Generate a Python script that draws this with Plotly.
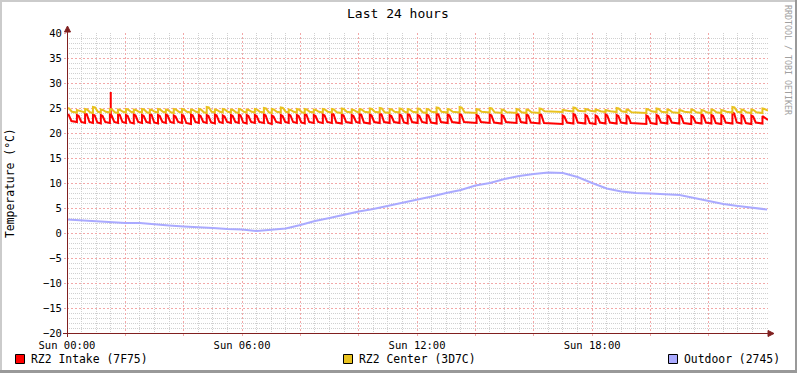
import plotly.graph_objects as go

# ---------------- data ----------------
hour_ticks = [0, 2, 4, 6, 8, 10, 12, 14, 16, 18, 20, 22]
hour_labels = ["Sun 00:00", "", "", "Sun 06:00", "", "", "Sun 12:00", "", "", "Sun 18:00", "", ""]

# cycle start times (hours) of the thermostat cycles seen in both rack sensors
cycle_hours = [0.00, 0.34, 0.62, 0.89, 1.16, 1.47, 1.75, 2.02, 2.29, 2.57,
               2.84, 3.12, 3.39, 3.66, 3.94, 4.25, 4.52, 4.79, 5.07, 5.34,
               5.62, 5.89, 6.16, 6.44, 6.75, 7.02, 7.33, 7.60, 7.88, 8.15,
               8.46, 8.77, 9.08, 9.42, 9.76, 10.03, 10.38, 10.72, 11.06, 11.40,
               11.68, 12.02, 12.33, 12.67, 13.05, 13.46, 14.04, 14.49, 14.90, 15.41,
               15.75, 16.20, 16.99, 17.36, 17.77, 18.12, 18.46, 18.84, 19.18, 19.86,
               20.21, 20.58, 20.99, 21.40, 21.75, 22.09, 22.43, 22.81, 23.12, 23.46,
               23.84]

intake_peak = [23.8, 23.6, 23.9, 23.7, 23.6, 23.7, 23.8, 23.6, 23.7, 23.6,
               23.8, 23.6, 23.7, 23.5, 23.6, 23.7, 23.6, 23.6, 23.7, 23.5,
               23.6, 23.7, 23.6, 23.6, 23.7, 23.5, 23.6, 23.7, 23.6, 23.8,
               23.6, 23.7, 23.9, 23.7, 23.6, 23.8, 23.7, 23.9, 23.6, 23.7,
               23.8, 23.6, 23.7, 23.9, 23.7, 23.8, 23.6, 23.7, 23.6, 23.9,
               23.7, 23.8, 23.5, 23.8, 23.6, 23.5, 23.7, 23.6, 23.5, 23.5,
               23.6, 23.5, 23.6, 23.4, 23.7, 23.6, 23.6, 24.1, 23.6, 23.5,
               23.4]
intake_low = [22.2, 22.0, 22.0, 21.9, 22.0, 22.0, 22.0, 21.9, 22.0, 22.0,
              21.9, 22.0, 22.0, 22.0, 21.8, 22.0, 22.0, 21.9, 22.0, 22.0,
              22.0, 21.9, 22.0, 22.0, 21.8, 22.0, 22.0, 22.0, 21.9, 22.0,
              22.0, 22.0, 21.9, 22.0, 22.0, 21.9, 22.0, 22.0, 22.0, 21.9,
              22.0, 22.0, 21.9, 22.0, 22.0, 22.0, 22.0, 21.9, 22.0, 22.0,
              21.9, 21.8, 21.9, 21.9, 21.8, 21.9, 21.9, 21.9, 21.8, 21.8,
              21.9, 21.9, 21.8, 21.9, 21.9, 21.8, 21.9, 21.9, 21.8, 21.9,
              22.6]
intake_spike_hour = [1.50]
intake_spike_value = [28.2]

center_peak = [25.0, 24.6, 24.8, 25.2, 24.7, 24.8, 24.7, 24.8, 24.7, 24.8,
               24.7, 24.8, 24.7, 24.8, 24.8, 24.7, 24.8, 25.2, 24.7, 24.8,
               24.7, 24.8, 24.7, 24.8, 25.0, 24.8, 25.1, 24.7, 24.8, 24.8,
               24.7, 24.8, 24.8, 24.9, 24.7, 24.8, 24.9, 25.0, 24.8, 24.9,
               24.8, 24.9, 24.8, 25.1, 24.8, 25.2, 24.8, 25.0, 24.7, 24.8,
               24.7, 24.9, 24.6, 25.1, 24.8, 24.7, 24.6, 25.0, 24.7, 24.8,
               24.9, 24.7, 24.6, 24.7, 24.6, 24.7, 24.6, 25.2, 24.7, 24.7,
               24.9]
center_low = [24.1, 24.1, 24.0, 24.1, 24.1, 24.0, 24.1, 24.1, 24.1, 24.0,
              24.1, 24.1, 24.0, 24.1, 24.1, 24.1, 24.0, 24.1, 24.1, 24.1,
              24.0, 24.1, 24.1, 24.1, 24.0, 24.1, 24.1, 24.1, 24.0, 24.1,
              24.1, 24.1, 24.0, 24.1, 24.1, 24.1, 24.1, 24.0, 24.1, 24.1,
              24.1, 24.0, 24.1, 24.1, 24.1, 24.0, 24.1, 24.0, 24.0, 24.0,
              24.0, 24.2, 24.3, 24.3, 24.3, 24.2, 24.2, 24.2, 24.0, 24.2,
              24.1, 24.0, 24.1, 24.0, 24.0, 24.0, 24.1, 24.1, 24.0, 24.0,
              24.5]

outdoor_hours = [0.0, 0.5, 1.0, 1.5, 2.0, 2.5, 3.0, 3.5, 4.0, 4.5,
                 5.0, 5.5, 6.0, 6.5, 7.0, 7.5, 8.0, 8.5, 9.0, 9.5,
                 10.0, 10.5, 11.0, 11.5, 12.0, 12.5, 13.0, 13.5, 14.0, 14.5,
                 15.0, 15.5, 16.0, 16.5, 17.0, 17.5, 18.0, 18.5, 19.0, 19.5,
                 20.0, 20.5, 21.0, 21.5, 22.0, 22.5, 23.0, 23.5, 24.0]
outdoor_temp = [2.7, 2.5, 2.4, 2.2, 2.0, 2.0, 1.7, 1.5, 1.3, 1.2,
                1.0, 0.8, 0.7, 0.4, 0.6, 0.9, 1.6, 2.4, 3.0, 3.7,
                4.3, 4.8, 5.4, 6.0, 6.6, 7.3, 8.0, 8.6, 9.5, 10.0,
                10.8, 11.4, 11.8, 12.1, 12.0, 11.2, 10.0, 8.9, 8.3, 8.0,
                7.9, 7.8, 7.6, 7.0, 6.4, 5.8, 5.4, 5.1, 4.7]

series_names = ["RZ2 Intake (7F75)", "RZ2 Center (3D7C)", "Outdoor (2745)"]
series_colors = ["#FF0000", "#E9C21F", "#AAAAFF"]

# ---------------- helpers ----------------
W, H = 797, 373
L, R, T, B = 67, 768, 33, 333  # plot area in pixels
X_END = 24.03


def px(x):
    return (x - L) / (R - L)


def py(y):
    return (B - y) / (B - T)


def cycle_line(starts, peaks, lows, end, drop, settle, drop_amt, settle_amt):
    xs, ys = [], []
    for i, t0 in enumerate(starts):
        t1 = starts[i + 1] if i + 1 < len(starts) else end
        xs += [t0, t0 + drop, t0 + settle, t1]
        ys += [peaks[i], peaks[i] - drop_amt, lows[i] + settle_amt, lows[i]]
    return xs, ys


ix, iy = cycle_line(cycle_hours, intake_peak, intake_low, X_END, 0.06, 0.15, 0.2, 0.2)
cx, cy = cycle_line(cycle_hours, center_peak, center_low, X_END, 0.07, 0.17, 0.1, 0.15)

# minor grid positions that do not coincide with major grid lines
x_minor = [k * 0.5 for k in range(0, 49) if (k * 0.5) % 2 != 0]
y_minor = [v for v in range(-20, 41) if v % 5 != 0]

FONT = "DejaVu Sans Mono"
AXIS_COL = "#802020"
MAJ = "rgb(242,168,168)"
MIN = "rgb(208,208,208)"

fig = go.Figure()
fig.add_trace(go.Scatter(x=ix, y=iy, mode="lines", line=dict(color=series_colors[0], width=2),
                         name=series_names[0]))
fig.add_trace(go.Scatter(x=[intake_spike_hour[0], intake_spike_hour[0]],
                         y=[23.0, intake_spike_value[0]], mode="lines",
                         line=dict(color=series_colors[0], width=2), showlegend=False))
fig.add_trace(go.Scatter(x=cx, y=cy, mode="lines", line=dict(color=series_colors[1], width=2),
                         name=series_names[1]))
fig.add_trace(go.Scatter(x=outdoor_hours, y=outdoor_temp, mode="lines",
                         line=dict(color=series_colors[2], width=2), name=series_names[2]))

shapes = []
# outer 3D frame
shapes.append(dict(type="rect", xref="paper", yref="paper", x0=px(0), x1=px(W), y0=py(0), y1=py(2),
                   fillcolor="#CBCBCB", line=dict(width=0), layer="above"))
shapes.append(dict(type="rect", xref="paper", yref="paper", x0=px(0), x1=px(2), y0=py(0), y1=py(H),
                   fillcolor="#CBCBCB", line=dict(width=0), layer="above"))
shapes.append(dict(type="rect", xref="paper", yref="paper", x0=px(W - 2), x1=px(W), y0=py(0), y1=py(H),
                   fillcolor="#999999", line=dict(width=0), layer="above"))
shapes.append(dict(type="rect", xref="paper", yref="paper", x0=px(0), x1=px(W), y0=py(H - 3), y1=py(H),
                   fillcolor="#999999", line=dict(width=0), layer="above"))
# axes with arrows
shapes.append(dict(type="line", xref="paper", yref="paper", x0=px(63), x1=px(770), y0=py(333.5), y1=py(333.5),
                   line=dict(color=AXIS_COL, width=1), layer="above"))
shapes.append(dict(type="line", xref="paper", yref="paper", x0=px(67.5), x1=px(67.5), y0=py(337), y1=py(30),
                   line=dict(color=AXIS_COL, width=1), layer="above"))
shapes.append(dict(type="path", xref="paper", yref="paper",
                   path="M %f,%f L %f,%f L %f,%f Z" % (px(768), py(330.5), px(774), py(333.5), px(768), py(336.5)),
                   fillcolor=AXIS_COL, line=dict(color=AXIS_COL, width=1), layer="above"))
shapes.append(dict(type="path", xref="paper", yref="paper",
                   path="M %f,%f L %f,%f L %f,%f Z" % (px(64.5), py(32), px(67.5), py(26), px(70.5), py(32)),
                   fillcolor=AXIS_COL, line=dict(color=AXIS_COL, width=1), layer="above"))

annotations = [
    dict(text="Last 24 hours", xref="paper", yref="paper", x=px(398), y=py(13), showarrow=False,
         xanchor="center", yanchor="middle", font=dict(family=FONT, size=13, color="#000000")),
    dict(text="Temperature (°C)", xref="paper", yref="paper", x=px(10), y=py(183), showarrow=False,
         textangle=-90, xanchor="center", yanchor="middle", font=dict(family=FONT, size=11.4, color="#000000")),
    dict(text="RRDTOOL / TOBI OETIKER", xref="paper", yref="paper", x=px(788), y=py(60), showarrow=False,
         textangle=90, xanchor="center", yanchor="middle", font=dict(family=FONT, size=8.3, color="#A0A0A0")),
]

legend_pos = [15, 343, 668]
for name, col, lx in zip(series_names, series_colors, legend_pos):
    shapes.append(dict(type="rect", xref="paper", yref="paper", x0=px(lx + 0.5), x1=px(lx + 9.5),
                       y0=py(354.5), y1=py(363.5), fillcolor=col, line=dict(color="#000000", width=1),
                       layer="above"))
    annotations.append(dict(text=name, xref="paper", yref="paper", x=px(lx + 14), y=py(359),
                            showarrow=False, xanchor="left", yanchor="middle",
                            font=dict(family=FONT, size=11.4, color="#000000")))

fig.update_layout(
    template="none",
    width=W, height=H, autosize=False,
    margin=dict(l=L, r=W - R, t=T, b=H - B, pad=0),
    paper_bgcolor="#FFFFFF", plot_bgcolor="#FFFFFF",
    showlegend=False,
    shapes=shapes, annotations=annotations,
    font=dict(family=FONT, size=10.5, color="#000000"),
    xaxis=dict(range=[0, X_END], tickmode="array", tickvals=hour_ticks, ticktext=hour_labels,
               showgrid=True, gridcolor=MAJ, griddash="2px,2px", gridwidth=1,
               minor=dict(tickmode="array", tickvals=x_minor, showgrid=True, gridcolor=MIN,
                          griddash="1px,1px", gridwidth=1, ticks=""),
               zeroline=False, showline=False, ticks="outside", ticklen=2, tickcolor=MAJ,
               tickfont=dict(family=FONT, size=10.5, color="#000000"), fixedrange=True),
    yaxis=dict(range=[-20, 40], tickmode="linear", tick0=0, dtick=5,
               showgrid=True, gridcolor=MAJ, griddash="2px,2px", gridwidth=1,
               minor=dict(tickmode="array", tickvals=y_minor, showgrid=True, gridcolor=MIN,
                          griddash="1px,1px", gridwidth=1, ticks=""),
               zeroline=False, showline=False, ticks="outside", ticklen=2, tickcolor=MAJ,
               tickfont=dict(family=FONT, size=10.5, color="#000000"), fixedrange=True),
)

fig.write_html("out.html", config={"displayModeBar": False},
               post_script="document.body.style.margin='0px';document.body.style.overflow='hidden';")
